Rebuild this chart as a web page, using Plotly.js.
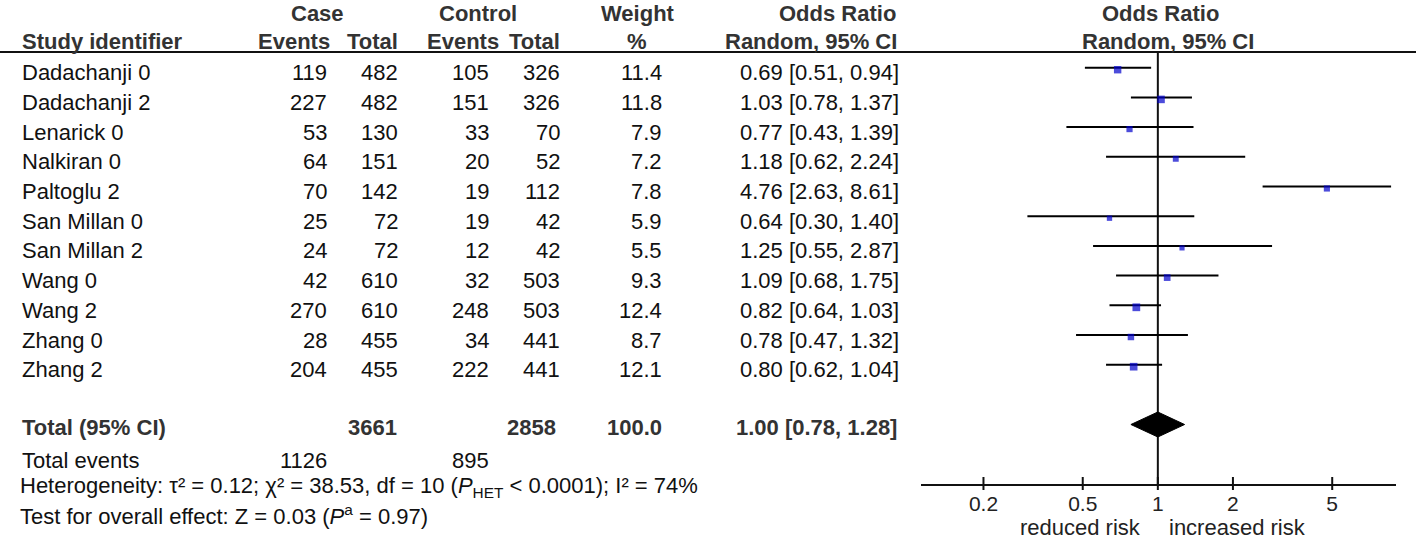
<!DOCTYPE html>
<html><head><meta charset="utf-8">
<script src="https://cdn.plot.ly/plotly-3.0.1.min.js"></script>
<style>html,body{margin:0;padding:0;background:#fff}</style>
</head><body><div id="chart" style="width:1418px;height:540px"></div>
<script>
const studies = ['Dadachanji 0','Dadachanji 2','Lenarick 0','Nalkiran 0','Paltoglu 2','San Millan 0','San Millan 2','Wang 0','Wang 2','Zhang 0','Zhang 2'];
const caseEvents = [119,227,53,64,70,25,24,42,270,28,204];
const caseTotal = [482,482,130,151,142,72,72,610,610,455,455];
const ctrlEvents = [105,151,33,20,19,19,12,32,248,34,222];
const ctrlTotal = [326,326,70,52,112,42,42,503,503,441,441];
const weight = [11.4,11.8,7.9,7.2,7.8,5.9,5.5,9.3,12.4,8.7,12.1];
const oddsRatio = [0.69,1.03,0.77,1.18,4.76,0.64,1.25,1.09,0.82,0.78,0.80];
const ciLow = [0.51,0.78,0.43,0.62,2.63,0.30,0.55,0.68,0.64,0.47,0.62];
const ciHigh = [0.94,1.37,1.39,2.24,8.61,1.40,2.87,1.75,1.03,1.32,1.04];
const totalLabel = 'Total (95% CI)';
const totalCase = 3661, totalCtrl = 2858, totalWeight = '100.0';
const pooledOR = 1.00, pooledLow = 0.78, pooledHigh = 1.28;
const totalCaseEvents = 1126, totalCtrlEvents = 895;
const hetText = 'Heterogeneity: τ² = 0.12; χ² = 38.53, df = 10 (<i>P</i><sub>HET</sub> < 0.0001); I² = 74%';
const testText = 'Test for overall effect: Z = 0.03 (<i>P</i><sup>a</sup> = 0.97)';
const tickVals = [0.2,0.5,1,2,5];
const tickText = ['0.2','0.5','1','2','5'];

const W = 1418, H = 540;
const FONT = 'Liberation Sans, Arial, sans-serif';
const ROW0 = 67.7, STEP = 29.7, TXT_OFF = 5;
const rowY = i => ROW0 + STEP * i;
const fmt2 = v => v.toFixed(2);

const annotations = [];
function txt(text, x, y, anchor, opts) {
  opts = opts || {};
  annotations.push({
    text: opts.bold ? '<b>' + text + '</b>' : text,
    x: x / W, y: 1 - y / H, xref: 'paper', yref: 'paper',
    xanchor: anchor, yanchor: 'middle', showarrow: false,
    font: {family: FONT, size: opts.size || 22, color: opts.color || '#111'}
  });
}
const HC = '#333';
// headers row 1
txt('Case', 317.5, 14, 'center', {bold: true, color: HC});
txt('Control', 478, 14, 'center', {bold: true, color: HC});
txt('Weight', 637.5, 14, 'center', {bold: true, color: HC});
txt('Odds Ratio', 898, 14, 'right', {bold: true, color: HC});
txt('Odds Ratio', 1160, 14, 'center', {bold: true, color: HC});
// headers row 2
txt('Study identifier', 20, 41, 'left', {bold: true, color: HC});
txt('Events', 332, 41, 'right', {bold: true, color: HC});
txt('Total', 400, 41, 'right', {bold: true, color: HC});
txt('Events', 501, 41, 'right', {bold: true, color: HC});
txt('Total', 562, 41, 'right', {bold: true, color: HC});
txt('%', 637, 41, 'center', {bold: true, color: HC});
txt('Random, 95% CI', 899, 41, 'right', {bold: true, color: HC});
txt('Random, 95% CI', 1168, 41, 'center', {bold: true, color: HC});

studies.forEach((s, i) => {
  const y = rowY(i) + TXT_OFF;
  txt(s, 20, y, 'left');
  txt(String(caseEvents[i]), 329, y, 'right');
  txt(String(caseTotal[i]), 400, y, 'right');
  txt(String(ctrlEvents[i]), 491, y, 'right');
  txt(String(ctrlTotal[i]), 562, y, 'right');
  txt(weight[i].toFixed(1), 664, y, 'right');
  txt(fmt2(oddsRatio[i]) + ' [' + fmt2(ciLow[i]) + ', ' + fmt2(ciHigh[i]) + ']', 901, y, 'right');
});
const yTot = 427;
txt(totalLabel, 20, yTot, 'left', {bold: true, color: HC});
txt(String(totalCase), 399, yTot, 'right', {bold: true, color: HC});
txt(String(totalCtrl), 558, yTot, 'right', {bold: true, color: HC});
txt(totalWeight, 664, yTot, 'right', {bold: true, color: HC});
txt(fmt2(pooledOR) + ' [' + fmt2(pooledLow) + ', ' + fmt2(pooledHigh) + ']', 899, yTot, 'right', {bold: true, color: HC});
txt('Total events', 20, 460, 'left');
txt(String(totalCaseEvents), 329, 460, 'right');
txt(String(totalCtrlEvents), 491, 460, 'right');
txt(hetText, 18, 487, 'left');
txt(testText, 18, 515, 'left');
txt('reduced risk', 1143, 527, 'right', {color: '#222'});
txt('increased risk', 1167, 527, 'left', {color: '#222'});

const traces = [];
// CI lines
studies.forEach((s, i) => {
  traces.push({type: 'scatter', mode: 'lines', x: [ciLow[i], ciHigh[i]], y: [rowY(i), rowY(i)],
    line: {color: '#000', width: 2}, hoverinfo: 'skip', showlegend: false});
});
// point estimates
traces.push({type: 'scatter', mode: 'markers', x: oddsRatio, y: studies.map((s, i) => rowY(i) + 2),
  marker: {symbol: 'square', color: '#0000cc', size: weight.map(w => 2.2 * Math.sqrt(w)), line: {width: 0}},
  showlegend: false, hoverinfo: 'skip'});
// pooled diamond
const dy = 12.5, yc = 424.5;
traces.push({type: 'scatter', mode: 'lines', fill: 'toself', fillcolor: '#000',
  x: [pooledLow, pooledOR, pooledHigh, pooledOR, pooledLow],
  y: [yc, yc - dy, yc, yc + dy, yc], line: {color: '#000', width: 1}, showlegend: false, hoverinfo: 'skip'});

const shapes = [
  {type: 'line', xref: 'paper', yref: 'paper', x0: 0, x1: 1416 / W, y0: 1 - 52 / H, y1: 1 - 52 / H, line: {color: '#111', width: 2}},
  {type: 'line', xref: 'x', yref: 'y', x0: 1, x1: 1, y0: 52, y1: 484, line: {color: '#111', width: 2}, layer: 'below'}
];
tickVals.forEach(v => shapes.push({type: 'line', xref: 'x', yref: 'paper', x0: v, x1: v, y0: 1 - 477 / H, y1: 1 - 490 / H, line: {color: '#111', width: 2}}));

const layout = {
  width: W, height: H, margin: {l: 0, r: 0, t: 0, b: 0},
  paper_bgcolor: '#fff', plot_bgcolor: 'rgba(0,0,0,0)', showlegend: false,
  xaxis: {type: 'log', domain: [921 / W, 1396 / W], range: [-0.9494, 0.9547],
    tickvals: tickVals, ticktext: tickText, ticks: '',
    showline: true, linecolor: '#111', linewidth: 2, showgrid: false, zeroline: false,
    tickfont: {family: FONT, size: 21, color: '#222'}, fixedrange: true},
  yaxis: {domain: [56 / H, 1], range: [484, 0], visible: false, showgrid: false, zeroline: false, fixedrange: true},
  annotations: annotations, shapes: shapes
};
Plotly.newPlot('chart', traces, layout, {displayModeBar: false, staticPlot: true});
</script></body></html>
